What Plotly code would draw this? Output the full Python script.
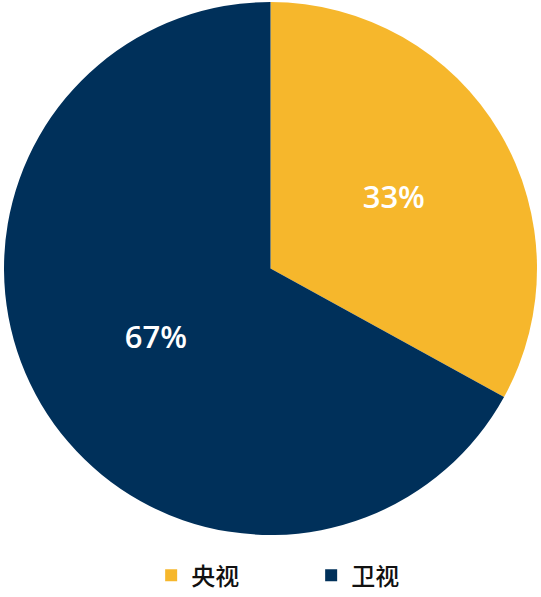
import plotly.graph_objects as go

labels = ["央视", "卫视"]
values = [33, 67]
colors = ["#F6B72C", "#00305A"]

fig = go.Figure(go.Pie(
    labels=labels,
    values=values,
    sort=False,
    direction="clockwise",
    rotation=0,
    marker=dict(colors=colors, line=dict(width=0)),
    texttemplate="%{value}%",
    textposition="inside",
    insidetextfont=dict(family="Open Sans, Noto Sans CJK SC", size=31, color="white", weight=600),
    hoverinfo="label+percent",
))

fig.update_layout(
    width=541, height=597,
    margin=dict(l=3, r=3, t=2, b=62, autoexpand=False),
    paper_bgcolor="white",
    plot_bgcolor="white",
    font=dict(family="Open Sans, Noto Sans CJK SC", color="#222222"),
    legend=dict(
        orientation="h",
        x=0.576, xanchor="center",
        y=-0.034, yanchor="top",
        font=dict(size=24, family="Noto Sans CJK SC", color="#111111", weight=500),
        entrywidth=115,
        entrywidthmode="pixels",
    ),
    showlegend=True,
)

fig.write_html("out.html", config={"displayModeBar": False},
               post_script="document.body.style.margin='0';")
